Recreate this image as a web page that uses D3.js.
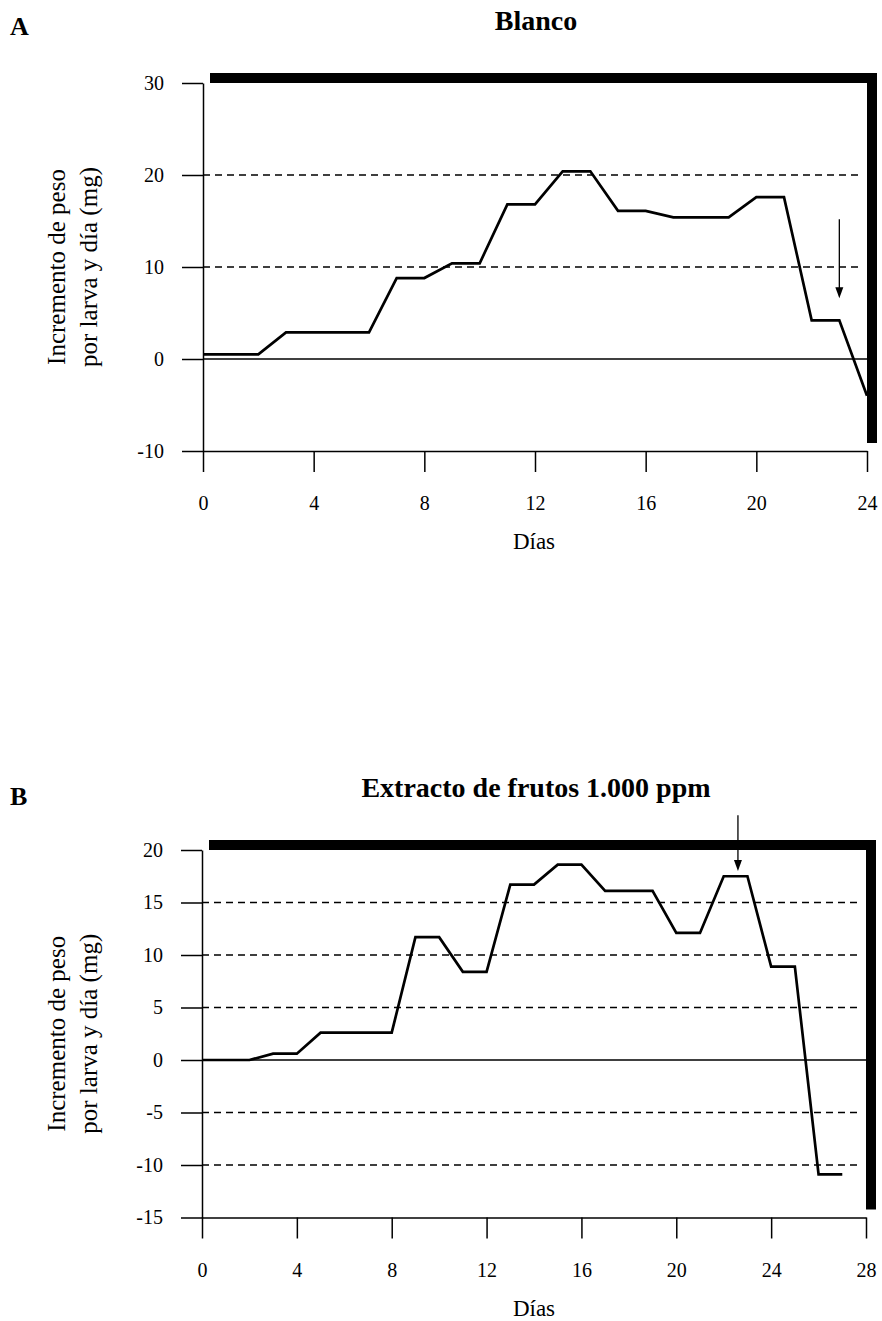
<!DOCTYPE html>
<html>
<head>
<meta charset="utf-8">
<script src="https://cdn.jsdelivr.net/npm/d3@7"></script>
<style>
  body { margin: 0; background: #fff; }
  svg { display: block; font-family: "Liberation Serif", "Times New Roman", serif; }
</style>
</head>
<body>
<svg id="sketchpad" width="882" height="1321"></svg>
<script>
// data
const daysA = [0, 1, 2, 3, 4, 5, 6, 7, 8, 9, 10, 11, 12, 13, 14, 15, 16, 17, 18, 19, 20, 21, 22, 23, 24];
const weightA = [0.5, 0.5, 0.5, 2.9, 2.9, 2.9, 2.9, 8.8, 8.8, 10.4, 10.4, 16.8, 16.8, 20.4, 20.4, 16.1, 16.1, 15.4, 15.4, 15.4, 17.6, 17.6, 4.2, 4.2, -4];
const xTicksA = [0, 4, 8, 12, 16, 20, 24];
const yTicksA = [-10, 0, 10, 20, 30];
const gridA = [10, 20];
const arrowA = [23, 15.2, 6.6]; // day, from, to

const daysB = [0, 1, 2, 3, 4, 5, 6, 7, 8, 9, 10, 11, 12, 13, 14, 15, 16, 17, 18, 19, 20, 21, 22, 23, 24, 25, 26, 27];
const weightB = [0, 0, 0, 0.6, 0.6, 2.6, 2.6, 2.6, 2.6, 11.7, 11.7, 8.4, 8.4, 16.7, 16.7, 18.6, 18.6, 16.1, 16.1, 16.1, 12.1, 12.1, 17.5, 17.5, 8.9, 8.9, -10.9, -10.9];
const xTicksB = [0, 4, 8, 12, 16, 20, 24, 28];
const yTicksB = [-15, -10, -5, 0, 5, 10, 15, 20];
const gridB = [-10, -5, 5, 10, 15];
const arrowB = [22.6, 23.3, 18.0];

const svg = d3.select("#sketchpad");

const drawPanel = (p) => {
  const x = d3.scaleLinear().domain(p.xDomain).range([p.left, p.right]);
  const y = d3.scaleLinear().domain(p.yDomain).range([p.bottom, p.top]);
  const g = svg.append("g");

  // panel letter and title
  g.append("text").attr("x", 10).attr("y", p.letterY)
    .attr("font-weight", "bold").attr("font-size", 26).text(p.letter);
  g.append("text").attr("x", 536).attr("y", p.titleY).attr("text-anchor", "middle")
    .attr("font-weight", "bold").attr("font-size", 28).text(p.title);

  // heavy shadow frame on top and right, then white plot area over it
  g.append("rect")
    .attr("x", p.left + 7).attr("y", p.top - 10)
    .attr("width", p.right - p.left + 3).attr("height", p.bottom - p.top + 2)
    .attr("fill", "#000");
  g.append("rect")
    .attr("x", p.left).attr("y", p.top)
    .attr("width", p.right - p.left).attr("height", p.bottom - p.top)
    .attr("fill", "#fff");

  // dashed grid and solid zero line
  g.selectAll(".grid")
    .data(p.grid)
    .enter()
    .append("line")
    .attr("x1", p.left).attr("x2", p.right - 4)
    .attr("y1", (d) => y(d)).attr("y2", (d) => y(d))
    .attr("stroke", "#000").attr("stroke-width", 1.3)
    .attr("stroke-dasharray", "7,5");
  g.append("line")
    .attr("x1", p.left).attr("x2", p.right)
    .attr("y1", y(0)).attr("y2", y(0))
    .attr("stroke", "#000").attr("stroke-width", 1.3);

  // axes (plain hyphen for negatives, as in the original)
  const fmt = (d) => String(d);
  const yAxis = g.append("g")
    .attr("transform", `translate(${p.left},0)`)
    .call(d3.axisLeft(y).tickValues(p.yTicks).tickFormat(fmt).tickSize(21).tickSizeOuter(0).tickPadding(18));
  const xAxis = g.append("g")
    .attr("transform", `translate(0,${p.bottom})`)
    .call(d3.axisBottom(x).tickValues(p.xTicks).tickFormat(fmt).tickSize(21).tickSizeOuter(0).tickPadding(24));
  [yAxis, xAxis].forEach((a) => {
    a.selectAll("path, line").attr("stroke", "#000").attr("stroke-width", 1.5);
    a.selectAll("text").attr("font-family", "Liberation Serif").attr("font-size", 20).attr("fill", "#000");
  });

  // axis titles
  g.append("text").attr("x", 534).attr("y", p.bottom + 98).attr("text-anchor", "middle")
    .attr("font-size", 23).text("Días");
  const yt = g.append("text")
    .attr("transform", `translate(65,${(p.top + p.bottom) / 2}) rotate(-90)`)
    .attr("text-anchor", "middle").attr("font-size", 25);
  yt.append("tspan").attr("x", 0).attr("y", 0).text("Incremento de peso");
  yt.append("tspan").attr("x", 0).attr("y", 32).text("por larva y día (mg)");

  // data line
  const line = d3.line()
    .x((d) => x(d[0]))
    .y((d) => y(d[1]));
  g.append("path")
    .datum(d3.zip(p.days, p.values))
    .attr("d", line)
    .attr("fill", "none")
    .attr("stroke", "#000")
    .attr("stroke-width", 2.7)
    .attr("stroke-linejoin", "miter");

  // arrow
  const [ad, af, at] = p.arrow;
  const ax = x(ad);
  const tip = y(at);
  g.append("line")
    .attr("x1", ax).attr("x2", ax)
    .attr("y1", y(af)).attr("y2", tip - 8)
    .attr("stroke", "#000").attr("stroke-width", 1.3);
  g.append("polygon")
    .attr("points", `${ax - 4},${tip - 11} ${ax + 4},${tip - 11} ${ax},${tip}`)
    .attr("fill", "#000");
};

drawPanel({
  letter: "A", letterY: 35, title: "Blanco", titleY: 30,
  left: 203, right: 867, top: 83, bottom: 451,
  xDomain: [0, 24], yDomain: [-10, 30],
  xTicks: xTicksA, yTicks: yTicksA, grid: gridA,
  days: daysA, values: weightA, arrow: arrowA,
});

drawPanel({
  letter: "B", letterY: 805, title: "Extracto de frutos 1.000 ppm", titleY: 797,
  left: 202, right: 866, top: 850, bottom: 1217.5,
  xDomain: [0, 28], yDomain: [-15, 20],
  xTicks: xTicksB, yTicks: yTicksB, grid: gridB,
  days: daysB, values: weightB, arrow: arrowB,
});
</script>
</body>
</html>
